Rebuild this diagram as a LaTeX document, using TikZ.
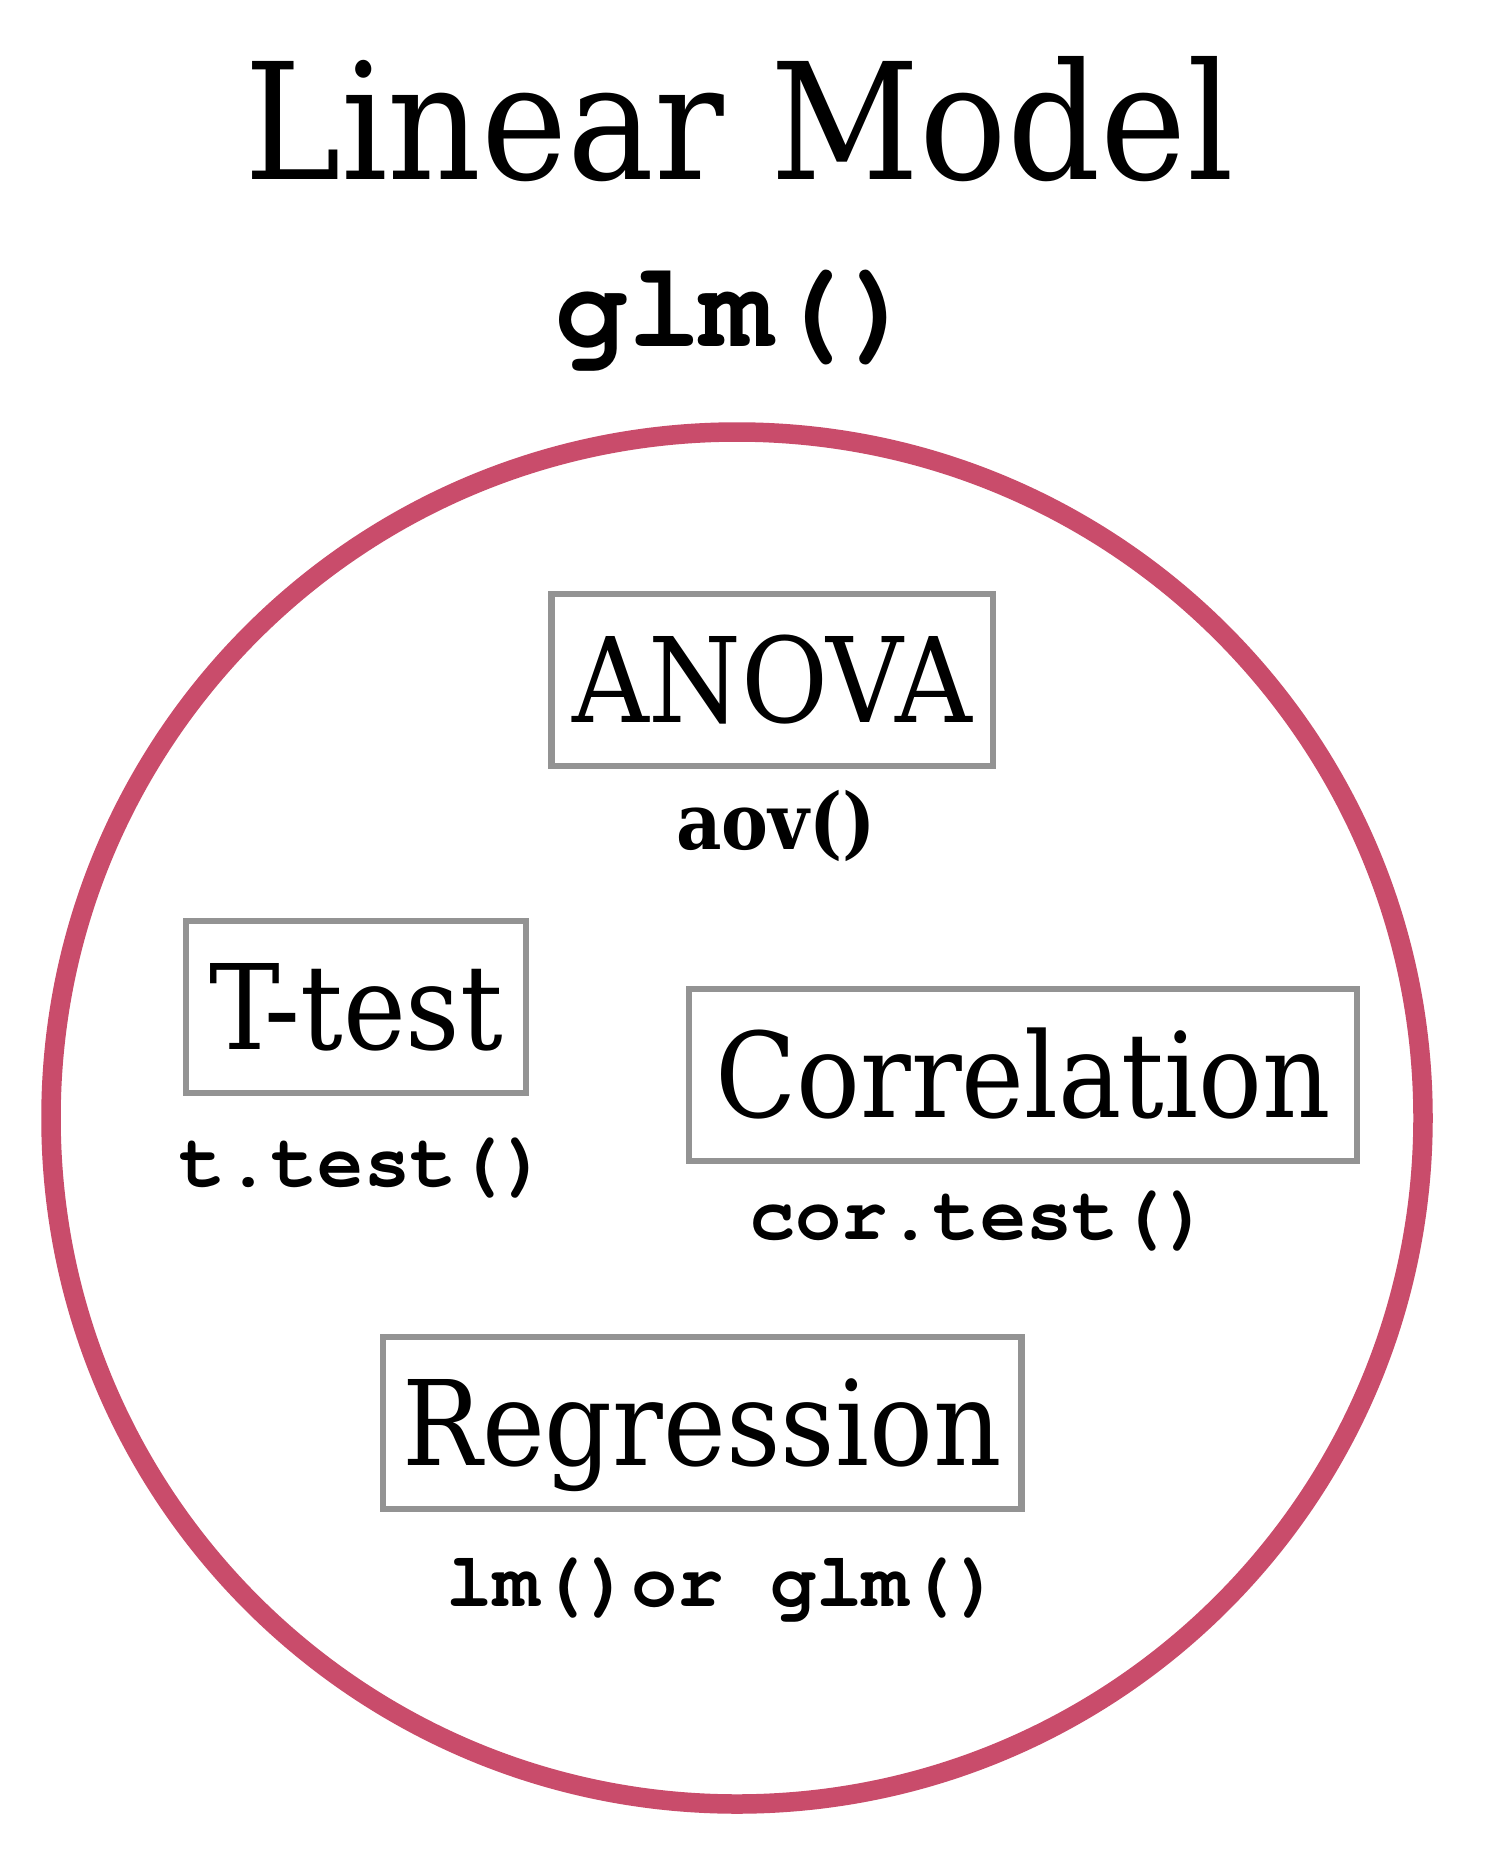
\documentclass[tikz,border=0pt]{standalone}
\usepackage{fontspec}
\setmainfont{DejaVu Serif Condensed}
\newfontfamily\codefont{texgyrecursor}[Extension=.otf, UprightFont=*-regular, BoldFont=*-bold]
\definecolor{ringred}{HTML}{C94C6B}
\definecolor{boxgray}{HTML}{939393}
\tikzset{
  method/.style={draw=boxgray, line width=6.5pt, inner sep=0pt,
    minimum height=172pt, text height=85pt, text depth=0pt,
    font=\fontsize{118}{120}\selectfont},
  codelabel/.style={anchor=base, inner sep=0pt,
    font=\codefont\bfseries\fontsize{77}{79}\selectfont},
}
\begin{document}
\begin{tikzpicture}[x=1pt,y=-1pt]
\useasboundingbox (0,0) rectangle (1485,1869);
\fill[white] (0,0) rectangle (1485,1869);
% title
\node[anchor=base, inner sep=0pt, font=\fontsize{162}{166}\selectfont] (title) at (739,179) {Linear Model};
\node[anchor=base, inner sep=0pt, font=\codefont\bfseries\fontsize{121}{124}\selectfont] (glm) at (737,346) {glm()};
% ring
\coordinate (ctr) at (737,1118);
\draw[ringred, line width=19.5pt] (ctr) circle (686pt);
% boxes
\node[method, minimum width=441.5pt] (anova) at (772,680) {ANOVA};
\node[method, minimum width=340pt] (ttest) at (356,1007) {T-test};
\node[method, minimum width=668pt] (corr) at (1023,1075) {Correlation};
\node[method, minimum width=638.5pt] (regr) at (702,1423) {Regression};
% function labels
\node[anchor=base, inner sep=0pt, font=\bfseries\fontsize{78}{80}\selectfont] (aov) at (776,849) {aov()};
\node[codelabel] (tfun) at (364,1186) {t.test()};
\node[codelabel] (corfun) at (980,1239.5) {cor.test()};
\node[codelabel] (lmfun) at (724,1606.6) {lm()or glm()};
\end{tikzpicture}
\end{document}
